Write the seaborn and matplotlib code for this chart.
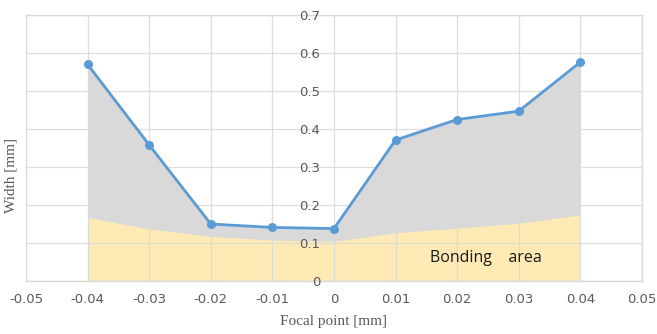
import matplotlib
matplotlib.use("Agg")
import matplotlib.pyplot as plt
import seaborn as sns
import pandas as pd

# Focal point positions [mm]
focal_point = [-0.04, -0.03, -0.02, -0.01, 0.0, 0.01, 0.02, 0.03, 0.04]
# Measured width [mm]
width = [0.570, 0.358, 0.150, 0.141, 0.138, 0.371, 0.425, 0.447, 0.576]
# Upper edge of the bonding area [mm]
bonding = [0.167, 0.137, 0.117, 0.108, 0.104, 0.127, 0.139, 0.152, 0.174]

x_ticks = [-0.05, -0.04, -0.03, -0.02, -0.01, 0, 0.01, 0.02, 0.03, 0.04, 0.05]
x_tick_labels = ["-0.05", "-0.04", "-0.03", "-0.02", "-0.01", "0",
                 "0.01", "0.02", "0.03", "0.04", "0.05"]
y_ticks = [0, 0.1, 0.2, 0.3, 0.4, 0.5, 0.6, 0.7]
y_tick_labels = ["0", "0.1", "0.2", "0.3", "0.4", "0.5", "0.6", "0.7"]

df = pd.DataFrame({"focal": focal_point, "width": width, "bonding": bonding})

sns.set_style("white")
plt.rcParams["font.family"] = ["DejaVu Sans"]

fig = plt.figure(figsize=(6.57, 3.34), dpi=100)
ax = fig.add_axes([0.0396, 0.1587, 0.9374, 0.7963])

grid_col = "#D9D9D9"
ax.fill_between(df["focal"], 0, df["width"], color="#D9D9D9", lw=0, zorder=1)
ax.fill_between(df["focal"], 0, df["bonding"], color="#FFEAB6", lw=0, zorder=1.5)

for yv in y_ticks:
    ax.axhline(yv, color=grid_col, lw=0.9, zorder=2, alpha=0.85)
for xv in x_ticks:
    ax.axvline(xv, color=grid_col, lw=0.9, zorder=2, alpha=0.85)

sns.lineplot(data=df, x="focal", y="width", ax=ax, color="#5B9BD5",
             lw=2.0, marker="o", markersize=6.5, markeredgewidth=0,
             zorder=5)

ax.set_xlim(-0.05, 0.05)
ax.set_ylim(0, 0.7)
ax.set_xticks(x_ticks)
ax.set_xticklabels(x_tick_labels)
ax.set_yticks(y_ticks)
ax.set_yticklabels(y_tick_labels)

# y axis sits at the origin, labels left of it and drawn above the fills
ax.spines["left"].set_position(("data", 0))
ax.spines["left"].set_visible(False)
for side in ["top", "right", "bottom"]:
    ax.spines[side].set_color(grid_col)
    ax.spines[side].set_linewidth(1.0)
ax.set_axisbelow(False)
ax.yaxis.set_zorder(4)
ax.xaxis.set_zorder(4)

# outer frame on the left edge
ax.axvline(-0.05, color=grid_col, lw=1.0, zorder=2)

ax.tick_params(axis="both", length=0, labelsize=9.5, labelcolor="#595959")
ax.tick_params(axis="x", pad=9)
ax.tick_params(axis="y", pad=10)

ax.set_xlabel("")
ax.set_ylabel("")
fig.text(0.508, 0.037, "Focal point [mm]", ha="center", va="center",
         family="Liberation Serif", fontsize=11, color="#595959")
fig.text(0.016, 0.475, "Width [mm]", ha="center", va="center", rotation=90,
         family="Liberation Serif", fontsize=11, color="#595959")

ax.text(0.0247, 0.061, "Bonding    area", ha="center", va="center",
        family="Open Sans", fontsize=11.5, color="#1a1a1a", zorder=6)

fig.savefig("out.png", dpi=100)
